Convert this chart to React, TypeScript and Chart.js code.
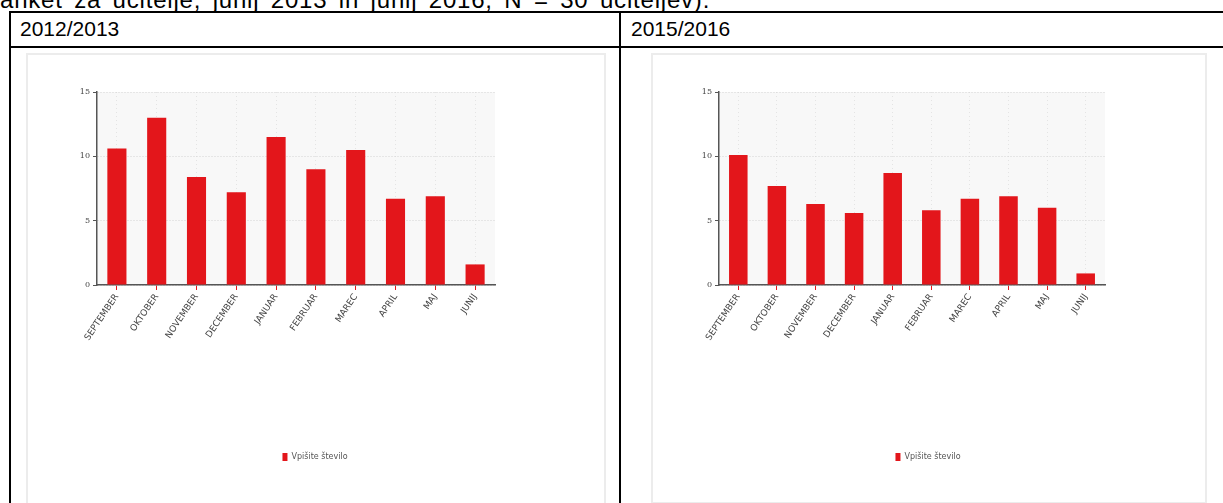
import React, { useEffect, useRef } from "react";
import { Chart, registerables } from "chart.js";

Chart.register(...registerables);

const introText = "anket za učitelje, junij 2013 in junij 2016, N = 30 učiteljev).";
const headers = ["2012/2013", "2015/2016"];
const months = ["SEPTEMBER", "OKTOBER", "NOVEMBER", "DECEMBER", "JANUAR", "FEBRUAR", "MAREC", "APRIL", "MAJ", "JUNIJ"];
const values2013 = [10.6, 13.0, 8.4, 7.2, 11.5, 9.0, 10.5, 6.7, 6.9, 1.6];
const values2016 = [10.1, 7.7, 6.3, 5.6, 8.7, 5.8, 6.7, 6.9, 6.0, 0.9];
const yTicks = [0, 5, 10, 15];
const seriesLabel = "Vpišite število";

const plotBg = {
  id: "plotBg",
  beforeDraw(chart: any) {
    const { ctx, chartArea: a } = chart;
    ctx.save();
    ctx.fillStyle = "#f8f8f8";
    ctx.fillRect(a.left, a.top, a.right - a.left, a.bottom - a.top);
    ctx.restore();
  },
};

type BarProps = {
  values: number[];
  width: number;
  height: number;
  yWidth: number;
  padRight: number;
};

function BarChart({ values, width, height, yWidth, padRight }: BarProps) {
  const ref = useRef<HTMLCanvasElement | null>(null);
  useEffect(() => {
    if (!ref.current) return;
    const chart = new Chart(ref.current, {
      type: "bar",
      data: {
        labels: months,
        datasets: [
          {
            label: seriesLabel,
            data: values,
            backgroundColor: "#e3161b",
            borderColor: "#a01a22",
            borderWidth: 0,
            barPercentage: 0.48,
            categoryPercentage: 1,
          },
        ],
      },
      options: {
        responsive: false,
        animation: false,
        layout: { padding: { top: 38, right: 0, left: 0, bottom: 0 } },
        plugins: {
          legend: {
            position: "bottom",
            labels: {
              boxWidth: 5,
              boxHeight: 8,
              padding: 8,
              color: "#555",
              font: { size: 8, family: "'DejaVu Sans', sans-serif" },
            },
          },
          tooltip: { enabled: false },
        },
        scales: {
          x: {
            grid: { offset: false, color: "#e4e4e4", tickLength: 5, tickColor: "#e5161a" },
            border: { color: "#555", width: 1.5, dash: [1, 3] },
            ticks: {
              autoSkip: false,
              minRotation: 56,
              maxRotation: 56,
              padding: 2,
              color: "#444",
              font: { size: 9, family: "'DejaVu Sans', sans-serif" },
            },
            afterFit: (s: any) => {
              s.height = 160;
            },
          },
          y: {
            min: 0,
            max: 15,
            afterBuildTicks: (s: any) => {
              s.ticks = yTicks.map((v) => ({ value: v }));
            },
            grid: { color: "#d4d4d4", tickLength: 4, tickColor: "#555" },
            border: { color: "#555", width: 1.5, dash: [1, 2] },
            ticks: {
              padding: 3,
              color: "#444",
              font: { size: 8, family: "'DejaVu Serif', serif" },
            },
            afterFit: (s: any) => {
              s.width = yWidth;
            },
          },
          spacer: {
            type: "linear",
            position: "right",
            display: true,
            grid: { display: false, drawTicks: false },
            border: { display: false },
            ticks: { display: false },
            afterFit: (s: any) => {
              s.width = padRight;
            },
          },
        },
      },
      plugins: [plotBg],
    });
    return () => chart.destroy();
  }, [values, width, height, yWidth, padRight]);
  return <canvas ref={ref} width={width} height={height} style={{ display: "block", width, height }} />;
}

const line = (style: React.CSSProperties): React.CSSProperties => ({
  position: "absolute",
  background: "#000",
  ...style,
});

export default function App() {
  const font = "'Liberation Sans', Arial, sans-serif";
  return (
    <div
      style={{
        position: "absolute",
        left: 0,
        top: 0,
        width: 1223,
        height: 503,
        overflow: "hidden",
        background: "#fff",
        fontFamily: font,
      }}
    >
      <div
        style={{
          position: "absolute",
          left: 0,
          top: -12,
          fontSize: 24,
          lineHeight: "24px",
          whiteSpace: "nowrap",
          color: "#000",
          letterSpacing: 0.8,
          wordSpacing: 4,
        }}
      >
        {introText}
      </div>
      {/* table borders */}
      <div style={line({ left: 9, top: 11, width: 1214, height: 2 })} />
      <div style={line({ left: 9, top: 46, width: 1214, height: 2 })} />
      <div style={line({ left: 9, top: 11, width: 2, height: 492 })} />
      <div style={line({ left: 619, top: 11, width: 2, height: 492 })} />
      <div style={{ position: "absolute", left: 20, top: 18, fontSize: 21, lineHeight: "22px", color: "#000" }}>{headers[0]}</div>
      <div style={{ position: "absolute", left: 631, top: 18, fontSize: 21, lineHeight: "22px", color: "#000" }}>{headers[1]}</div>
      {/* chart frames */}
      <div style={{ position: "absolute", left: 26, top: 53, width: 576, height: 470, border: "2px solid #ececec" }} />
      <div style={{ position: "absolute", left: 651, top: 53, width: 552, height: 447, border: "2px solid #ececec" }} />
      <div style={{ position: "absolute", left: 28, top: 54 }}>
        <BarChart values={values2013} width={574} height={417} yWidth={69} padRight={107} />
      </div>
      <div style={{ position: "absolute", left: 653, top: 54 }}>
        <BarChart values={values2016} width={550} height={417} yWidth={66} padRight={98} />
      </div>
    </div>
  );
}
